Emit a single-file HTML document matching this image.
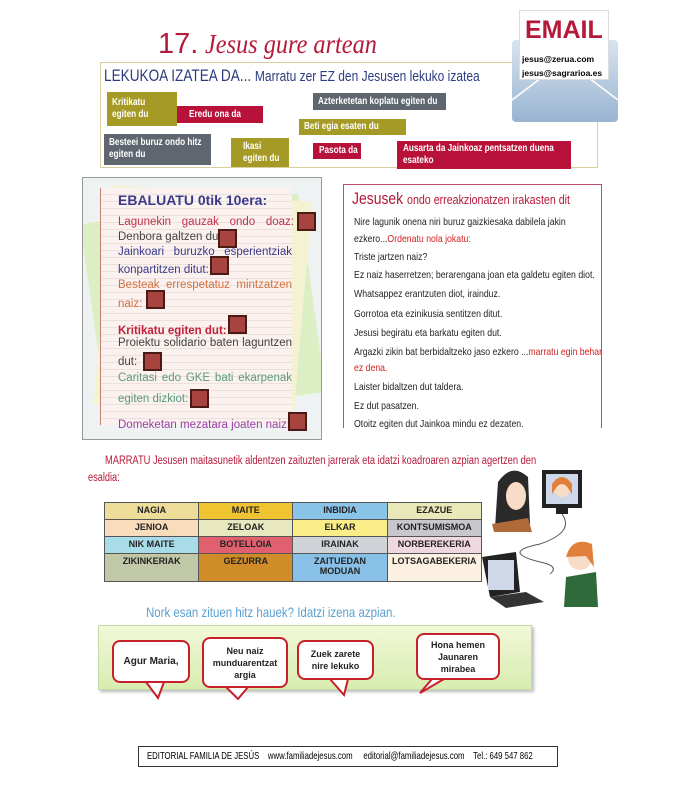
<!DOCTYPE html>
<html><head><meta charset="utf-8"><style>
*{margin:0;padding:0;box-sizing:border-box}
body{width:700px;height:800px;background:#fff;position:relative;overflow:hidden;font-family:"Liberation Sans",sans-serif}
.a{position:absolute}
.n{display:inline-block;transform:scaleX(.82);transform-origin:left top;white-space:nowrap}
.chip{position:absolute;color:#fff;font-size:10px;font-weight:bold;padding:3px 5px;line-height:12px;overflow:hidden}
.ol{background:#a59a25}.cr{background:#b8123a}.gr{background:#5f6670}
.sq{position:absolute;width:19px;height:19px;background:#a8443f;border:2px solid #4a1a16}
.ev{position:absolute;left:118px;width:174px;font-size:11.5px;line-height:14px;white-space:nowrap}
.j{text-align:justify;text-align-last:justify}
.r{position:absolute;left:354px;font-size:10.5px;color:#222;transform:scaleX(.83);transform-origin:left top;white-space:nowrap}
table{border-collapse:collapse;position:absolute;left:104px;top:502px;width:378px;font-size:9px;font-weight:bold;color:#222}
td{border:1.5px solid #555;text-align:center;width:94.5px;height:17px;vertical-align:top;padding-top:2px;white-space:nowrap}
.b{position:absolute;background:#fff;border:2px solid #c8202a;border-radius:8px;font-size:9px;font-weight:bold;text-align:center;display:flex;align-items:center;justify-content:center;color:#222;line-height:12px}
</style></head><body>
<div class="a" style="left:158px;top:28px;font-family:'Liberation Serif',serif;font-size:27px;color:#b5193a;font-style:italic;white-space:nowrap"><span style="font-style:normal;font-family:'Liberation Sans',sans-serif;font-size:29px">17.</span> <span class="n" style="transform:scaleX(.9)">Jesus gure artean</span></div>
<div class="a" style="left:100px;top:62px;width:498px;height:106px;border:1.5px solid #d8cfa0"></div>
<div class="a" style="left:104px;top:66px;font-size:17px;color:#2d3b80"><span class="n" style="transform:scaleX(.8)">LEKUKOA IZATEA DA... <span style="font-size:15px">Marratu zer EZ den Jesusen lekuko izatea</span></span></div>
<div class="chip ol" style="left:107px;top:92px;width:70px;height:34px;padding-top:5px"><span class="n">Kritikatu<br>egiten du</span></div>
<div class="chip cr" style="left:177px;top:106px;width:86px;height:17px;padding-left:12px"><span class="n">Eredu ona da</span></div>
<div class="chip gr" style="left:313px;top:93px;width:133px;height:17px;padding-top:3px"><span class="n">Azterketetan koplatu egiten du</span></div>
<div class="chip ol" style="left:299px;top:119px;width:107px;height:16px;padding-top:2px"><span class="n">Beti egia esaten du</span></div>
<div class="chip gr" style="left:104px;top:134px;width:107px;height:31px;padding-top:3px"><span class="n">Besteei buruz ondo hitz<br>egiten du</span></div>
<div class="chip ol" style="left:231px;top:138px;width:58px;height:29px;padding-left:12px"><span class="n">Ikasi<br>egiten du</span></div>
<div class="chip cr" style="left:313px;top:143px;width:48px;height:16px;padding-top:2px;padding-left:6px"><span class="n">Pasota da</span></div>
<div class="chip cr" style="left:397px;top:141px;width:174px;height:28px;padding-left:6px;padding-top:2px"><span class="n">Ausarta da Jainkoaz pentsatzen duena<br>esateko</span></div>
<!-- envelope -->
<div class="a" style="left:512px;top:40px;width:106px;height:82px;background:linear-gradient(#d8e4f0,#98b4d0);border-radius:4px"></div>
<svg class="a" style="left:512px;top:40px" width="106" height="82"><path d="M0 60 L53 20 L106 60" stroke="#fff" fill="none" stroke-width="1.5"/></svg>
<div class="a" style="left:519px;top:10px;width:90px;height:70px;background:#fff;border:1px solid #ddd"></div>
<div class="a" style="left:525px;top:16px;font-size:25px;font-weight:bold;color:#b5193a">EMAIL</div>
<div class="a" style="left:522px;top:52px;font-size:8.5px;font-weight:bold;line-height:14px">jesus@zerua.com<br>jesus@sagrarioa.es</div>
<!-- left eval -->
<div class="a" style="left:82px;top:177px;width:240px;height:263px;background:#eef2f2;border:1.5px solid #999;overflow:hidden">
<div class="a" style="left:10px;top:30px;width:220px;height:200px;background:#dcefc4;transform:rotate(-8deg)"></div>
<div class="a" style="left:20px;top:15px;width:200px;height:220px;background:#f4f2d0;transform:rotate(5deg)"></div>
</div>
<div class="a" style="left:100px;top:188px;width:192px;height:237px;background:repeating-linear-gradient(#fbf2f0 0 6px,#ebe0dc 6px 7px);border-left:1.5px solid #c08070"></div>
<div class="a" style="left:118px;top:192px;font-size:14px;font-weight:bold;color:#3a3a8a">EBALUATU 0tik 10era:</div>
<div class="ev j" style="top:215px;color:#c0304a;width:176px">Lagunekin gauzak ondo doaz:</div>
<div class="ev" style="top:230px;color:#444">Denbora galtzen dut:</div>
<div class="ev j" style="top:245px;color:#3a3a8a">Jainkoari buruzko esperientziak</div>
<div class="ev" style="top:263px;color:#3a3a8a">konpartitzen ditut:</div>
<div class="ev j" style="top:278px;color:#d07040">Besteak errespetatuz mintzatzen</div>
<div class="ev" style="top:297px;color:#d07040">naiz:</div>
<div class="ev" style="top:324px;color:#c0203a;font-weight:bold">Kritikatu egiten dut:</div>
<div class="ev j" style="top:336px;color:#444">Proiektu solidario baten laguntzen</div>
<div class="ev" style="top:355px;color:#444">dut:</div>
<div class="ev j" style="top:371px;color:#5a9a7a">Caritasi edo GKE bati ekarpenak</div>
<div class="ev" style="top:392px;color:#5a9a7a">egiten dizkiot:</div>
<div class="ev" style="top:418px;color:#9a40a0">Domeketan mezatara joaten naiz:</div>
<div class="sq" style="left:297px;top:212px"></div>
<div class="sq" style="left:218px;top:229px"></div>
<div class="sq" style="left:210px;top:256px"></div>
<div class="sq" style="left:146px;top:290px"></div>
<div class="sq" style="left:228px;top:315px"></div>
<div class="sq" style="left:143px;top:352px"></div>
<div class="sq" style="left:190px;top:389px"></div>
<div class="sq" style="left:288px;top:412px"></div>
<!-- right -->
<div class="a" style="left:343px;top:184px;width:259px;height:244px;border:1.5px solid #c0506a;border-bottom:none"></div>
<div class="a" style="left:352px;top:189px;font-size:17px;color:#b5193a"><span class="n">Jesusek <span style="font-size:13px">ondo erreakzionatzen irakasten dit</span></span></div>
<div class="r" style="top:216px">Nire lagunik onena niri buruz gaizkiesaka dabilela jakin</div>
<div class="r" style="top:233px">ezkero...<span style="color:#d02020">Ordenatu nola jokatu:</span></div>
<div class="r" style="top:251px">Triste jartzen naiz?</div>
<div class="r" style="top:269px">Ez naiz haserretzen; berarengana joan eta galdetu egiten diot.</div>
<div class="r" style="top:288px">Whatsappez erantzuten diot, irainduz.</div>
<div class="r" style="top:308px">Gorrotoa eta ezinikusia sentitzen ditut.</div>
<div class="r" style="top:327px">Jesusi begiratu eta barkatu egiten dut.</div>
<div class="r" style="top:346px">Argazki zikin bat berbidaltzeko jaso ezkero ...<span style="color:#d02020">marratu egin behar</span></div>
<div class="r" style="top:362px;color:#d02020">ez dena.</div>
<div class="r" style="top:381px">Laister bidaltzen dut taldera.</div>
<div class="r" style="top:400px">Ez dut pasatzen.</div>
<div class="r" style="top:418px">Otoitz egiten dut Jainkoa mindu ez dezaten.</div>
<!-- marratu -->
<div class="a" style="left:105px;top:455px;font-size:11.5px;color:#b5193a"><span class="n" style="transform:scaleX(.81)">MARRATU Jesusen maitasunetik aldentzen zaituzten jarrerak eta idatzi koadroaren azpian agertzen den</span></div>
<div class="a" style="left:88px;top:472px;font-size:11.5px;color:#b5193a"><span class="n" style="transform:scaleX(.8)">esaldia:</span></div>
<table>
<tr><td style="background:#eedd99">NAGIA</td><td style="background:#f0c430">MAITE</td><td style="background:#8ac4e8">INBIDIA</td><td style="background:#e8e8b8">EZAZUE</td></tr>
<tr><td style="background:#f8dcbc">JENIOA</td><td style="background:#e8e8c0">ZELOAK</td><td style="background:#fbee88">ELKAR</td><td style="background:#c8c8cc">KONTSUMISMOA</td></tr>
<tr><td style="background:#a8dce8">NIK MAITE</td><td style="background:#e06070">BOTELLOIA</td><td style="background:#d0d4d8">IRAINAK</td><td style="background:#f0d8e0">NORBEREKERIA</td></tr>
<tr><td style="background:#c0c8a8;height:28px">ZIKINKERIAK</td><td style="background:#d08c28">GEZURRA</td><td style="background:#88c0e8">ZAITUEDAN<br>MODUAN</td><td style="background:#fcf0e0">LOTSAGABEKERIA</td></tr>
</table>
<!-- illustration -->
<svg class="a" style="left:480px;top:462px" width="130" height="150">
<path d="M18 20 Q32 0 48 15 L50 62 L15 66 Z" fill="#2a2a2a"/>
<ellipse cx="36" cy="34" rx="10" ry="14" fill="#f8dcc8"/>
<path d="M12 62 L48 56 L52 70 L14 70 Z" fill="#b06a3a"/>
<rect x="62" y="8" width="40" height="38" fill="#222"/><rect x="66" y="12" width="32" height="30" fill="#cfd8e8"/>
<circle cx="82" cy="27" r="8" fill="#f8dcc8"/><path d="M72 22 Q82 8 92 22 L92 32 L88 26 Q82 18 76 26 L72 32Z" fill="#e0803a"/>
<rect x="76" y="46" width="12" height="6" fill="#222"/>
<path d="M82 52 Q95 70 60 82 Q20 90 60 100 Q80 104 70 112" stroke="#555" fill="none"/>
<circle cx="100" cy="96" r="12" fill="#f8dcc8"/><path d="M86 95 Q92 74 112 82 L114 105 L106 94Z" fill="#e0803a"/>
<path d="M86 115 L116 110 L118 145 L84 145Z" fill="#2f6a3a"/>
<path d="M2 95 L36 90 L40 130 L10 135Z" fill="#222"/><rect x="8" y="98" width="26" height="30" fill="#cfd8e8"/>
<path d="M10 135 L46 130 L64 140 L26 146Z" fill="#333"/>
</svg>
<div class="a" style="left:146px;top:604px;font-size:14px;color:#5aa0d0"><span class="n" style="transform:scaleX(.82)">Nork esan zituen hitz hauek? Idatzi izena azpian.</span></div>
<div class="a" style="left:98px;top:625px;width:434px;height:65px;background:linear-gradient(#f2f8d8,#d8ecb0);border:1px solid #c8d8a8;box-shadow:2px 2px 3px #bbb"></div>
<svg class="a" style="left:98px;top:625px" width="440" height="75">
<path d="M48 57 L60 73 L66 57" fill="#fff" stroke="#c8202a" stroke-width="2"/>
<path d="M128 62 L140 74 L150 62" fill="#fff" stroke="#c8202a" stroke-width="2"/>
<path d="M232 54 L246 70 L250 54" fill="#fff" stroke="#c8202a" stroke-width="2"/>
<path d="M334 54 L322 68 L346 54" fill="#fff" stroke="#c8202a" stroke-width="2"/>
</svg>
<div class="b" style="left:112px;top:640px;width:78px;height:43px;font-size:10px">Agur Maria,</div>
<div class="b" style="left:202px;top:637px;width:86px;height:51px">Neu naiz<br>munduarentzat<br>argia</div>
<div class="b" style="left:297px;top:640px;width:77px;height:40px">Zuek zarete<br>nire lekuko</div>
<div class="b" style="left:416px;top:633px;width:84px;height:47px">Hona hemen<br>Jaunaren<br>mirabea</div>
<div class="a" style="left:138px;top:746px;width:420px;height:21px;border:1px solid #333;font-size:10.5px;line-height:19px;padding-left:8px;overflow:hidden"><span class="n" style="transform:scaleX(.74)">EDITORIAL FAMILIA DE JESÚS &nbsp;&nbsp;&nbsp;www.familiadejesus.com &nbsp;&nbsp;&nbsp;&nbsp;editorial@familiadejesus.com &nbsp;&nbsp;&nbsp;Tel.: 649 547 862</span></div>
</body></html>
